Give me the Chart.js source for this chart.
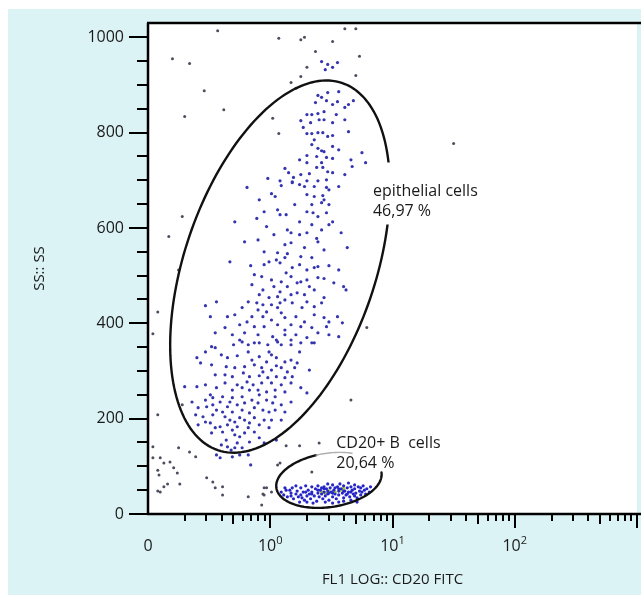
<!DOCTYPE html>
<html>
<head>
<meta charset="utf-8">
<script src="https://cdn.jsdelivr.net/npm/chart.js@4.4.0/dist/chart.umd.min.js"></script>
<style>
  html, body { margin: 0; padding: 0; background: #fff; }
  canvas { display: block; }
</style>
</head>
<body>
<canvas id="flow" width="641" height="595"></canvas>
<script>
// x = FL1 (CD20 FITC) in decades (log10), y = SS
var ssTicks = [0, 200, 400, 600, 800, 1000];
var flTickVals = [-1, 0, 1, 2];
var flTickBase = ['0', '10', '10', '10'];
var flTickExp = ['', '0', '1', '2'];

var epithelialEvents = [
 [0.42,949],[0.47,943],[0.51,937],[0.45,932],[0.55,947],
 [0.39,878],[0.47,884],[0.56,886],[0.37,863],[0.46,867],[0.55,865],[0.68,867],[0.64,859],[0.61,853],[0.30,838],
 [0.34,838],[0.39,840],[0.44,844],[0.54,838],[0.25,825],[0.33,821],[0.44,827],[0.51,821],[0.27,811],[0.30,798],
 [0.34,798],[0.39,800],[0.43,800],[0.47,792],[0.51,794],[0.64,802],[0.36,785],[0.39,767],[0.42,762],[0.44,760],
 [0.51,771],[0.30,752],[0.38,750],[0.46,748],[0.51,746],[0.30,737],[0.42,737],[0.66,743],[0.67,729],[0.75,758],
 [0.78,737],[0.12,725],[0.15,716],[0.19,706],[0.25,712],[0.32,714],[0.38,727],[0.43,727],[0.47,718],[0.51,716],
 [-0.02,704],[0.08,699],[0.18,697],[0.30,699],[0.39,699],[0.46,701],
 [0.42,874],[0.51,859],[0.40,827],[0.61,827],[0.34,775],[0.56,764],[0.24,743],[0.61,712],[0.24,691],[0.48,680],
 [-0.19,685],[0.09,689],[0.18,695],[0.28,687],[0.36,687],[0.46,685],[0.56,687],[0.01,672],[0.04,666],[0.30,670],
 [0.36,666],[0.43,668],[0.44,659],[0.34,649],[0.42,653],[0.48,649],[-0.05,634],[0.06,638],[0.08,628],[0.30,634],
 [0.35,632],[0.39,624],[0.46,632],[0.51,613],[-0.29,613],[-0.11,620],[-0.03,603],[0.14,596],[0.17,590],[0.24,586],
 [0.30,590],[0.42,596],[0.48,607],[0.58,590],[-0.21,571],[0.12,565],[0.17,569],[0.38,578],[0.39,571],[0.63,559],
 [-0.05,550],[0.06,548],[0.14,546],[0.25,540],[0.34,538],[0.05,533],[0.08,527],[0.12,538],[-0.33,529],[-0.16,521],
 [-0.05,523],[0.18,517],[0.30,512],[0.36,517],[0.39,519],[0.48,521],[0.13,506],[0.17,498],[-0.07,498],[0.01,491],
 [0.09,487],[0.25,487],[0.30,491],[0.39,496],[0.44,494],[-0.15,481],[-0.06,470],[0.03,477],[0.14,477],[0.32,477],
 [0.36,470],[0.60,477],[0.62,470],[-0.09,460],[-0.01,454],[0.06,456],[0.17,460],[0.22,464],[-0.18,445],[-0.11,443],
 [0.01,439],[0.08,443],[0.12,449],[0.18,443],[0.30,445],[-0.53,437],[-0.44,445],[-0.23,433],[-0.10,428],[-0.03,424],
 [0.06,433],[0.26,433],[0.42,443],[-0.49,414],[-0.35,414],[-0.15,414],[-0.06,414],[0.09,422],[0.12,412],[0.21,414],
 [0.36,418],[0.44,412],[0.55,414],[-0.25,397],[-0.19,403],[-0.13,393],[-0.05,393],[0.06,397],[0.17,397],[0.25,393],
 [0.34,391],[0.46,393],[0.59,401],[-0.45,380],[-0.31,376],[-0.21,380],[-0.10,376],[0.02,372],[0.12,376],[0.21,376],
 [0.30,370],[0.48,376],[0.56,372],[-0.48,351],[-0.30,355],[-0.18,355],[-0.09,359],[0.05,365],[0.09,355],[0.25,359],
 [0.36,359],
 [-0.09,659],[0.20,649],[0.13,628],[0.24,613],[0.34,607],[0.03,586],[-0.10,575],[0.28,559],[0.44,554],[-0.01,529],
 [0.24,523],[0.56,512],[-0.13,502],[0.22,485],[0.52,485],[0.08,466],[0.28,460],[0.44,454],[-0.06,439],[0.36,435],
 [-0.29,418],[0.01,407],[0.28,403],[0.48,403],[-0.37,391],[0.12,386],[0.39,380],[-0.25,365],[-0.02,355],[0.17,365],
 [-0.45,349],[-0.23,361],[-0.13,359],[0.06,361],[0.17,355],[0.34,359],[-0.60,328],[-0.57,317],[-0.35,328],[-0.27,332],
 [-0.15,323],[-0.09,330],[-0.03,319],[0.01,334],[0.05,328],[0.12,319],[0.17,323],[0.22,317],[-0.36,309],[-0.29,307],
 [-0.21,309],[-0.13,313],[-0.07,307],[-0.06,298],[0.01,302],[0.09,307],[0.14,298],[0.32,302],[-0.37,292],[-0.31,288],
 [-0.22,296],[-0.17,288],[-0.09,290],[0.05,288],[0.12,286],[-0.19,277],[-0.14,271],[-0.07,275],[0.01,275],[0.09,271],
 [0.17,275],[-0.70,267],[-0.60,267],[-0.44,265],[-0.31,260],[-0.23,265],[-0.10,260],[-0.03,256],[0.04,260],[0.25,265],
 [0.30,254],[-0.64,235],[-0.53,239],[-0.47,244],[-0.39,246],[-0.33,235],[-0.31,244],[-0.23,246],[-0.21,233],[-0.15,239],
 [-0.09,250],[-0.03,239],[0.04,246],[0.02,233],[0.09,229],[0.17,235],[-0.59,223],[-0.52,225],[-0.44,218],[-0.35,225],
 [-0.31,214],[-0.23,218],[-0.13,223],[-0.06,218],[-0.01,214],[0.12,214],[-0.61,208],[-0.55,204],[-0.47,208],[-0.37,204],
 [-0.33,197],[-0.25,202],[-0.21,197],[-0.13,202],[-0.05,197],[0.09,197],[-0.59,187],[-0.49,191],[-0.41,183],[-0.35,187],
 [-0.27,183],[-0.18,181],[-0.09,187],[-0.01,181],[-0.48,170],[-0.39,172],[-0.29,166],[-0.21,170],[-0.09,160],[0.05,155],
 [-0.36,155],[-0.35,141],[-0.32,134],[-0.29,139],[-0.27,149],[-0.44,124],[-0.41,118],[-0.31,120],[-0.25,124],[-0.18,124],
 [-0.16,103],
 [-0.53,340],[-0.40,334],[-0.18,340],[-0.01,340],[0.24,340],[-0.48,313],[0.05,311],[0.20,307],[-0.45,292],[-0.02,286],
 [0.18,288],[-0.53,271],[-0.37,275],[-0.27,271],[-0.17,260],[0.12,256],[-0.49,250],[-0.41,235],[-0.27,229],[-0.10,233],
 [-0.47,229],[-0.39,214],[-0.17,212],[0.04,218],[-0.53,193],[-0.29,193],[-0.17,191],[0.01,197],[-0.45,181],[-0.31,176],
 [-0.13,172],[-0.25,162],[-0.17,151],[-0.40,145],[-0.23,139],[-0.05,149]
];

var bCellEvents = [
 [0.09,46],[0.11,40],[0.13,50],[0.14,36],[0.17,44],[0.18,55],[0.19,32],[0.21,42],[0.22,48],[0.23,36],
 [0.25,55],[0.25,40],[0.27,46],[0.28,29],[0.29,59],[0.30,38],[0.31,50],[0.32,42],[0.33,32],[0.34,57],
 [0.34,46],[0.36,38],[0.37,53],[0.38,27],[0.39,44],[0.39,59],[0.40,36],[0.41,50],[0.42,42],[0.43,32],
 [0.44,57],[0.44,46],[0.45,38],[0.46,53],[0.47,63],[0.47,42],[0.48,29],[0.49,55],[0.50,46],[0.51,36],
 [0.51,61],[0.52,50],[0.53,42],[0.54,32],[0.55,57],[0.56,48],[0.56,40],[0.57,63],[0.58,53],[0.59,44],
 [0.60,34],[0.60,59],[0.61,48],[0.62,40],[0.63,55],[0.64,65],[0.64,46],[0.65,36],[0.66,57],[0.67,50],
 [0.68,42],[0.69,61],[0.69,53],[0.70,44],[0.71,34],[0.72,57],[0.73,48],[0.74,40],[0.74,55],[0.75,46],
 [0.76,59],[0.77,50],[0.78,42],[0.79,53],[0.81,46],[0.82,57],[0.26,34],[0.30,25],[0.35,23],[0.24,25],
 [0.16,50],[0.12,55],[0.21,59],[0.45,25],[0.51,23],[0.56,25],[0.60,27],[0.66,29],[0.71,25],
 [0.39,50],[0.42,55],[0.47,48],[0.51,44],[0.56,53],[0.60,48],[0.63,42],[0.48,44],[0.44,53],[0.53,55],
 [0.66,46],[0.69,38],[0.34,42],[0.29,46],[0.17,38]
];

var bCellBright = [[0.42,46],[0.45,44],[0.57,50],[0.60,53],[0.48,48],[0.53,46]];

var otherEvents = [
 [-0.43,1014],[0.07,998],[0.25,995],[0.28,1000],[0.51,991],[0.61,1018],[0.70,1018],[0.37,970],[0.73,960],[0.70,920],
 [-0.80,955],[-0.66,945],[-0.54,888],[-0.38,848],[-0.70,834],[0.02,830],[0.07,798],[0.30,937],[0.25,918],[0.17,905],
 [0.21,893],[1.50,777],[-0.72,624],[-0.83,582],[-0.75,512],[-0.92,424],[-0.96,378],[-0.92,208],[-0.96,141],[-0.90,118],
 [-0.96,118],[-0.75,139],[-0.66,130],[-0.61,120],[-0.87,107],[-0.82,109],[-0.92,92],[-0.91,82],[-0.79,97],[-0.76,86],
 [-0.87,57],[-0.90,46],[-0.84,63],[-0.74,63],[-0.92,48],[-0.52,76],[-0.47,67],[-0.39,57],[-0.39,40],[-0.45,55],
 [-0.05,55],[-0.06,42],[-0.18,36],[-0.07,19],[0.06,103],[0.24,143],[0.40,149],[0.13,143],[0.08,107],[0.34,88],
 [-0.03,55],[-0.05,40],[0.01,46],[0.66,239],[-0.72,229],[0.79,391]
];

// gates: center, end of long axis, end of short axis (data units)
var gateCenter = [[0.08, 519], [0.48, 71]];
var gateLong = [[0.59, 904], [0.91, 87]];
var gateShort = [[-0.66, 584], [0.45, 127]];
var gateName = ['epithelial cells', 'CD20+ B  cells'];
var gatePct = ['46,97 %', '20,64 %'];
var gateLabelAt = [[0.84, 668], [0.54, 139]];

var FONT = "'Open Sans', 'DejaVu Sans', sans-serif";

function toPts(arr) {
  return arr.map(function (p) { return { x: p[0], y: p[1] }; });
}

function gateArc(ctx, chart, i, t0, t1) {
  var xs = chart.scales.x, ys = chart.scales.y;
  var cx = xs.getPixelForValue(gateCenter[i][0]), cy = ys.getPixelForValue(gateCenter[i][1]);
  var ux = xs.getPixelForValue(gateLong[i][0]) - cx, uy = ys.getPixelForValue(gateLong[i][1]) - cy;
  var vx = xs.getPixelForValue(gateShort[i][0]) - cx, vy = ys.getPixelForValue(gateShort[i][1]) - cy;
  ctx.beginPath();
  for (var t = t0; t <= t1; t += 2) {
    var r = t * Math.PI / 180;
    var px = cx + Math.cos(r) * ux + Math.sin(r) * vx;
    var py = cy + Math.cos(r) * uy + Math.sin(r) * vy;
    if (t === t0) ctx.moveTo(px, py); else ctx.lineTo(px, py);
  }
  ctx.stroke();
}

var flowDeco = {
  id: 'flowDeco',
  beforeDraw: function (chart) {
    var ctx = chart.ctx, a = chart.chartArea;
    ctx.save();
    ctx.fillStyle = '#dcf3f5';
    ctx.fillRect(8, 9, chart.width - 8, chart.height - 9);
    ctx.fillStyle = '#ffffff';
    ctx.fillRect(a.left, a.top, a.right - a.left, a.bottom - a.top);
    ctx.restore();
  },
  afterDatasetsDraw: function (chart) {
    var ctx = chart.ctx, xs = chart.scales.x, ys = chart.scales.y;
    var l0x = xs.getPixelForValue(gateLabelAt[0][0]), l0y = ys.getPixelForValue(gateLabelAt[0][1]);
    ctx.save();
    ctx.lineCap = 'round';
    ctx.strokeStyle = '#111';
    ctx.lineWidth = 2.4;
    // big gate, broken where its label sits
    ctx.save();
    ctx.beginPath();
    ctx.rect(0, 0, chart.width, chart.height);
    ctx.rect(l0x - 6, l0y - 33, 34, 62);
    ctx.clip('evenodd');
    gateArc(ctx, chart, 0, 0, 360);
    ctx.restore();
    // small gate: dark lower part, faint top
    gateArc(ctx, chart, 1, 100, 360);
    ctx.strokeStyle = '#b0b0b0';
    ctx.lineWidth = 1.4;
    gateArc(ctx, chart, 1, 60, 100);

    ctx.fillStyle = '#1a1a1a';
    ctx.font = '16px ' + FONT;
    ctx.textAlign = 'left';
    ctx.textBaseline = 'alphabetic';
    for (var i = 0; i < gateName.length; i++) {
      var lx = xs.getPixelForValue(gateLabelAt[i][0]), ly = ys.getPixelForValue(gateLabelAt[i][1]);
      ctx.fillText(gateName[i], lx, ly);
      ctx.fillText(gatePct[i], lx, ly + 20);
    }
    ctx.restore();
  },
  afterDraw: function (chart) {
    var ctx = chart.ctx, a = chart.chartArea, xs = chart.scales.x, ys = chart.scales.y;
    ctx.save();
    ctx.strokeStyle = '#000';
    // frame: left, bottom, top
    ctx.lineWidth = 2.5;
    ctx.beginPath();
    ctx.moveTo(a.left, a.top); ctx.lineTo(a.left, a.bottom);
    ctx.moveTo(a.left - 1, a.bottom); ctx.lineTo(chart.width, a.bottom);
    ctx.moveTo(a.left - 1, a.top); ctx.lineTo(chart.width, a.top);
    ctx.stroke();

    // y tick marks every 50
    ctx.lineWidth = 2;
    ctx.beginPath();
    for (var v = 0; v <= 1000; v += 50) {
      var py = Math.round(ys.getPixelForValue(v));
      var len = (v % 200 === 0) ? 19 : 11;
      ctx.moveTo(a.left - len, py); ctx.lineTo(a.left, py);
    }
    ctx.stroke();

    // x log tick marks
    ctx.beginPath();
    for (var d = -1; d <= 3; d++) {
      for (var k = 1; k <= 9; k++) {
        if (d === 3 && k > 1) break;
        if (d === -1 && k === 1) continue;
        var px = Math.round(xs.getPixelForValue(d + Math.log10(k)));
        var tl = k === 1 ? 14 : (k === 5 ? 10 : 7);
        ctx.moveTo(px, a.bottom); ctx.lineTo(px, a.bottom + tl);
      }
    }
    ctx.stroke();

    // x tick labels with superscripts
    ctx.fillStyle = '#1a1a1a';
    ctx.textBaseline = 'alphabetic';
    ctx.textAlign = 'left';
    for (var i = 0; i < flTickVals.length; i++) {
      var cx = xs.getPixelForValue(flTickVals[i]);
      ctx.font = '16px ' + FONT;
      var w1 = ctx.measureText(flTickBase[i]).width;
      ctx.font = '11px ' + FONT;
      var w2 = flTickExp[i] ? ctx.measureText(flTickExp[i]).width : 0;
      var x0 = cx - (w1 + w2) / 2;
      ctx.font = '16px ' + FONT;
      ctx.fillText(flTickBase[i], x0, 551);
      if (w2) {
        ctx.font = '11px ' + FONT;
        ctx.fillText(flTickExp[i], x0 + w1, 544);
      }
    }

    // axis titles
    ctx.font = '15px ' + FONT;
    ctx.textAlign = 'center';
    ctx.textBaseline = 'middle';
    ctx.fillText('FL1 LOG:: CD20 FITC', (a.left + a.right) / 2, 580);
    ctx.translate(40, (a.top + a.bottom) / 2);
    ctx.rotate(-Math.PI / 2);
    ctx.fillText('SS:: SS', 0, 0);
    ctx.restore();
  }
};

new Chart(document.getElementById('flow'), {
  type: 'scatter',
  data: {
    datasets: [
      { label: 'other events', data: toPts(otherEvents), backgroundColor: '#4d4d5e', pointRadius: 1.5, pointBorderWidth: 0 },
      { label: 'epithelial cells', data: toPts(epithelialEvents), backgroundColor: '#3535b0', pointRadius: 1.6, pointBorderWidth: 0 },
      { label: 'CD20+ B cells', data: toPts(bCellEvents), backgroundColor: '#2626c8', pointRadius: 1.6, pointBorderWidth: 0 },
      { label: 'CD20+ bright', data: toPts(bCellBright), backgroundColor: '#b4d232', pointRadius: 1.9, pointBorderWidth: 0 }
    ]
  },
  options: {
    responsive: false,
    animation: false,
    devicePixelRatio: 1,
    layout: { padding: { top: 23, right: 2, left: 0, bottom: 0 } },
    plugins: { legend: { display: false }, tooltip: { enabled: false } },
    scales: {
      x: {
        type: 'linear', min: -1, max: 3,
        ticks: { display: false },
        grid: { display: false, drawTicks: false },
        border: { display: false },
        afterFit: function (s) { s.height = 81; s.paddingLeft = 0; s.paddingRight = 0; }
      },
      y: {
        type: 'linear', min: 0, max: 1030,
        afterBuildTicks: function (s) { s.ticks = ssTicks.map(function (v) { return { value: v }; }); },
        ticks: {
          font: { family: FONT, size: 16 }, color: '#1a1a1a', padding: 24,
          callback: function (v) { return String(v); }
        },
        grid: { display: false, drawTicks: false },
        border: { display: false },
        afterFit: function (s) { s.width = 148; s.paddingTop = 0; s.paddingBottom = 0; }
      }
    }
  },
  plugins: [flowDeco]
});
</script>
</body>
</html>
